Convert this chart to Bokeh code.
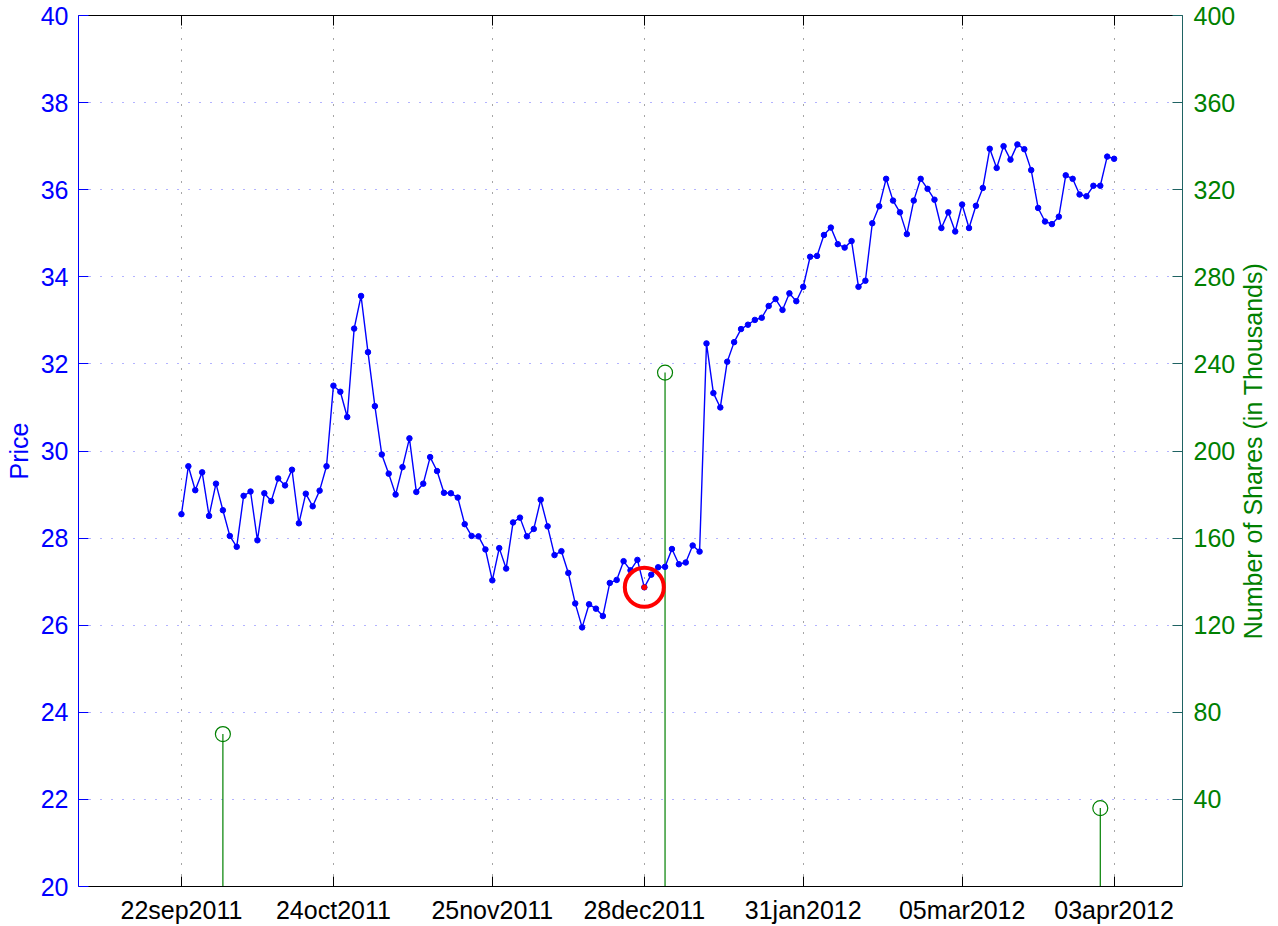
import math
from bokeh.plotting import figure
from bokeh.layouts import row
from bokeh.models import Range1d, LinearAxis, FixedTicker, Label, Grid, ColumnDataSource
from bokeh.embed import file_html
from bokeh.resources import INLINE

# ---- data -------------------------------------------------------------
price = [
    28.55, 29.65, 29.10, 29.51, 28.51, 29.25, 28.64, 28.05, 27.80, 28.97,
    29.07, 27.95, 29.03, 28.85, 29.37, 29.21, 29.57, 28.34, 29.02, 28.73,
    29.09, 29.65, 31.50, 31.36, 30.78, 32.81, 33.56, 32.27, 31.03, 29.92,
    29.48, 29.00, 29.63, 30.29, 29.06, 29.25, 29.86, 29.54, 29.04, 29.03,
    28.93, 28.32, 28.05, 28.04, 27.74, 27.03, 27.77, 27.30, 28.36, 28.47,
    28.04, 28.21, 28.88, 28.27, 27.61, 27.70, 27.20, 26.50, 25.95, 26.48,
    26.38, 26.21, 26.97, 27.04, 27.47, 27.26, 27.50, 26.87, 27.16, 27.33,
    27.34, 27.75, 27.40, 27.44, 27.83, 27.69, 32.47, 31.33, 31.00, 32.05,
    32.50, 32.80, 32.90, 33.01, 33.06, 33.33, 33.49, 33.24, 33.62, 33.44,
    33.77, 34.46, 34.48, 34.96, 35.13, 34.75, 34.67, 34.82, 33.77, 33.91,
    35.23, 35.62, 36.25, 35.75, 35.48, 34.98, 35.75, 36.25, 36.02, 35.77,
    35.12, 35.48, 35.04, 35.66, 35.12, 35.63, 36.04, 36.94, 36.50, 37.00,
    36.69, 37.04, 36.93, 36.45, 35.58, 35.27, 35.21, 35.38, 36.33, 36.25,
    35.89, 35.85, 36.09, 36.09, 36.76, 36.71,
]
day = list(range(len(price)))  # trading-day index

tick_idx = [0, 22, 45, 67, 90, 113, 135]
tick_labels = ["22sep2011", "24oct2011", "25nov2011", "28dec2011",
               "31jan2012", "05mar2012", "03apr2012"]

price_ticks = [20, 22, 24, 26, 28, 30, 32, 34, 36, 38, 40]
share_ticks = [40, 80, 120, 160, 200, 240, 280, 320, 360, 400]

stem_idx = [6, 70, 133]
stem_shares = [70, 236, 36]
stem_base = [0, 0, 0]

highlight_idx = [67]

left_title = "Price"
right_title = "Number of Shares (in Thousands)"

# ---- styling ----------------------------------------------------------
FONT = "Liberation Sans"
FS = "25px"
BLUE = "#0000ff"
GREEN = "#008000"
TEAL = "#1f6363"

x_range = Range1d(-14.9, 144.9)
y_range = Range1d(20, 40)
ymid = (y_range.start + y_range.end) / 2

p = figure(width=1202, height=926, output_backend="svg", toolbar_location=None,
           x_range=x_range, y_range=y_range,
           x_axis_type=None, y_axis_type=None,
           min_border_left=42, min_border_right=53,
           min_border_top=15, min_border_bottom=40)
p.outline_line_color = None
p.background_fill_color = "white"
p.border_fill_color = "white"
p.extra_y_ranges = {"shares": Range1d(0, 400)}

xt = FixedTicker(ticks=tick_idx)
yt = FixedTicker(ticks=price_ticks)
st = FixedTicker(ticks=share_ticks)


def style_axis(ax, text_color, line_color):
    ax.axis_line_color = line_color
    ax.axis_line_width = 1
    ax.major_tick_line_color = line_color
    ax.major_tick_line_width = 1
    ax.major_tick_in = 10
    ax.major_tick_out = 0
    ax.minor_tick_line_color = None
    ax.major_label_text_color = text_color
    ax.major_label_text_font = FONT
    ax.major_label_text_font_size = FS
    ax.major_label_standoff = 10


# grids
p.add_layout(Grid(dimension=0, ticker=xt, grid_line_color="black",
                  grid_line_alpha=0.7, grid_line_dash="1 10"))
p.add_layout(Grid(dimension=1, ticker=yt, grid_line_color=BLUE,
                  grid_line_alpha=0.6, grid_line_dash="1 10"))

# axes
xb = LinearAxis(ticker=xt,
                major_label_overrides={t: l for t, l in zip(tick_idx, tick_labels)})
style_axis(xb, "black", "black")
xb.major_label_standoff = 9
p.add_layout(xb, "below")

xa = LinearAxis(ticker=xt)
style_axis(xa, "black", "black")
xa.major_label_text_font_size = "0px"
xa.major_label_text_alpha = 0
xa.major_label_standoff = 0
p.add_layout(xa, "above")

yl = LinearAxis(ticker=yt)
style_axis(yl, BLUE, BLUE)
p.add_layout(yl, "left")

yr = LinearAxis(ticker=st, y_range_name="shares")
style_axis(yr, GREEN, TEAL)
yr.major_label_standoff = 11
p.add_layout(yr, "right")

# stems (shares)
p.segment(x0=stem_idx, y0=stem_base, x1=stem_idx, y1=stem_shares,
          y_range_name="shares", line_color=GREEN, line_width=1.2)
p.scatter(stem_idx, stem_shares, y_range_name="shares", size=15,
          fill_color=None, line_color=GREEN, line_width=1.2)

# price line
src = ColumnDataSource(dict(day=day, price=price))
p.line("day", "price", source=src, line_color=BLUE, line_width=1.4)
p.scatter("day", "price", source=src, size=5.5, fill_color=BLUE, line_color=BLUE)

# highlighted point
hx = highlight_idx
hy = [price[i] for i in highlight_idx]
p.scatter(hx, hy, size=39, fill_color=None, line_color="#ff0000", line_width=4)
p.scatter(hx, hy, size=5, fill_color="#ff0000", line_color="#ff0000")


# axis titles in narrow side panels, both reading bottom-to-top
def title_panel(width, text, color, xpos):
    f = figure(width=width, height=926, output_backend="svg", toolbar_location=None,
               x_range=Range1d(0, 1), y_range=y_range,
               x_axis_type=None, y_axis_type=None,
               min_border_left=0, min_border_right=0,
               min_border_top=15, min_border_bottom=40)
    f.outline_line_color = None
    f.background_fill_color = "white"
    f.border_fill_color = "white"
    f.add_layout(Label(x=xpos, y=ymid, text=text,
                       angle=math.pi / 2, text_align="center", text_baseline="middle",
                       text_color=color, text_font=FONT, text_font_size=FS))
    return f


ql = title_panel(36, left_title, BLUE, 0.50)
qr = title_panel(40, right_title, GREEN, 0.35)

layout = row(ql, p, qr, spacing=0)
open("out.html", "w").write(file_html(layout, INLINE))
